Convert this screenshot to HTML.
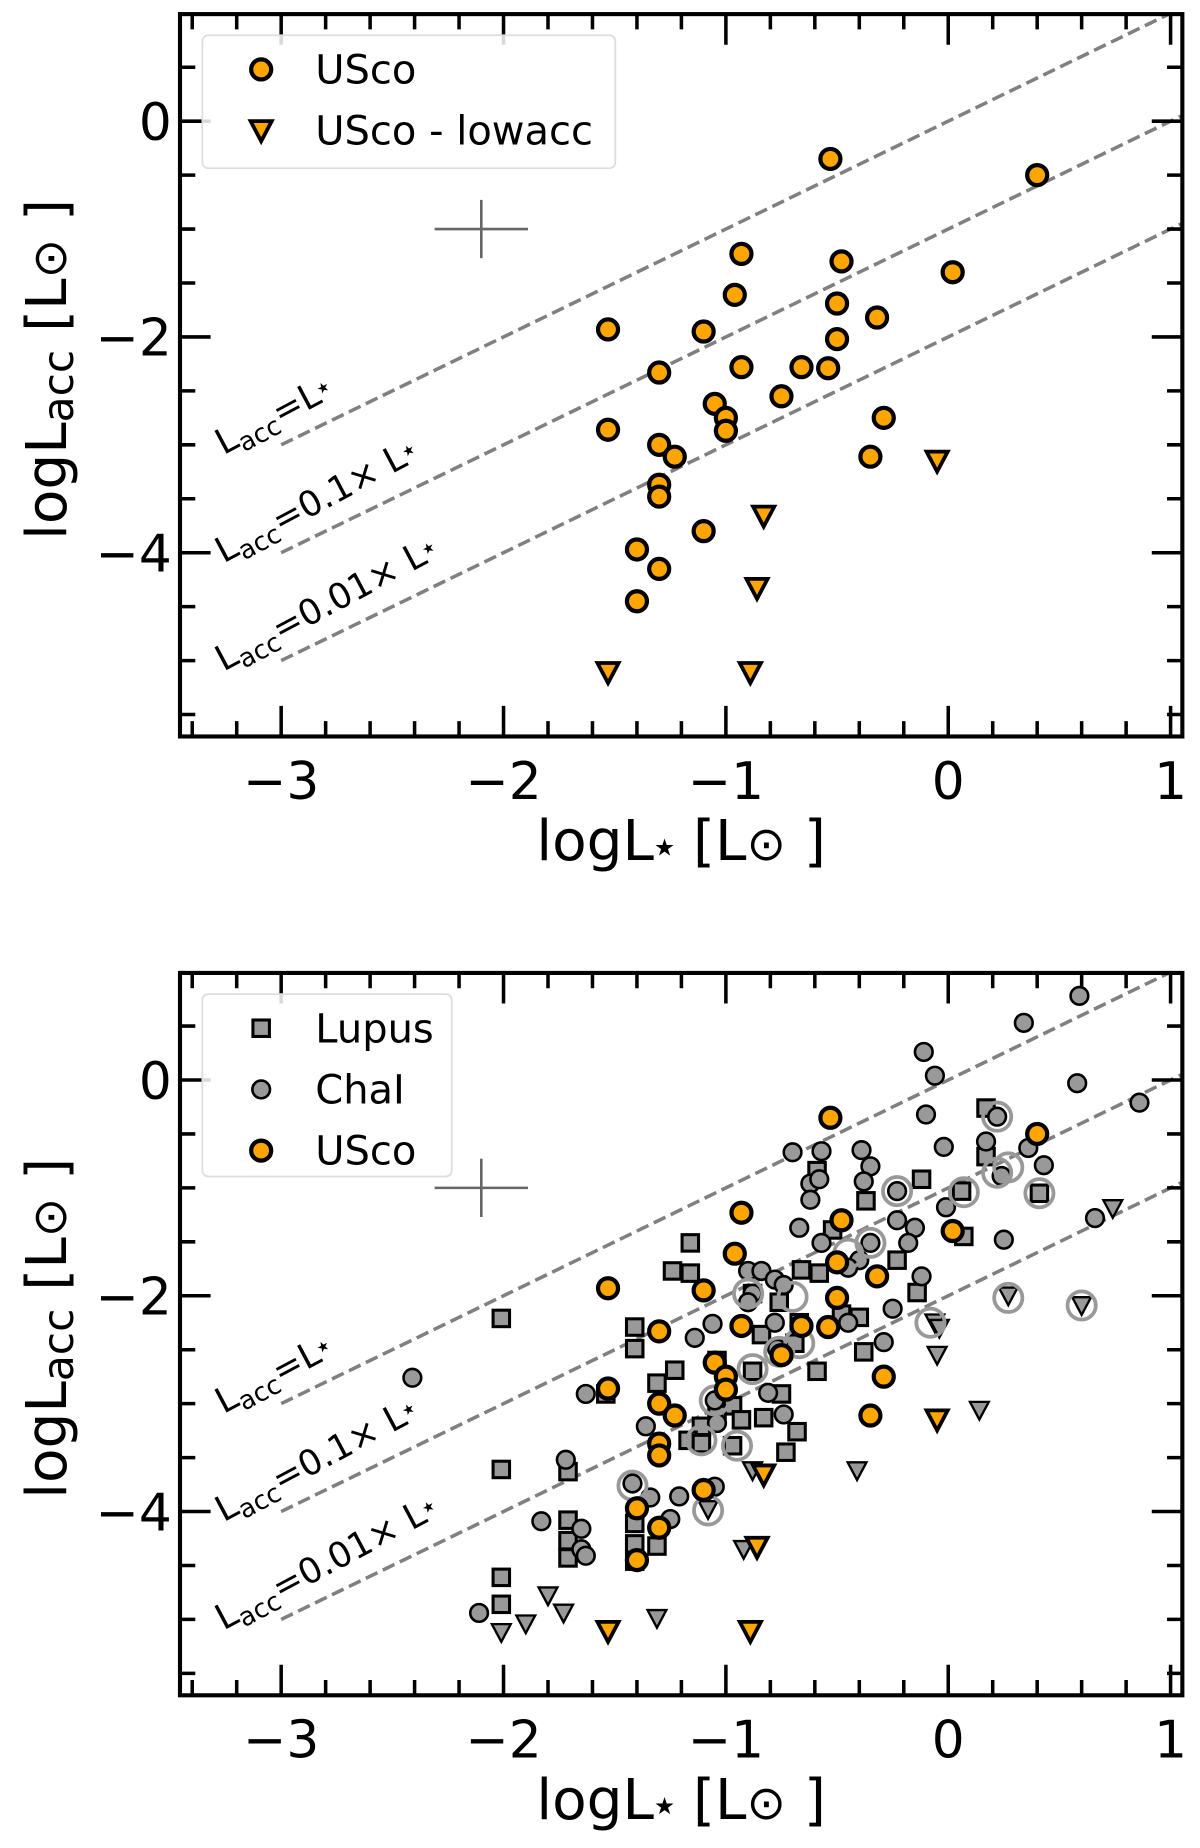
<!DOCTYPE html>
<html><head><meta charset="utf-8"><style>
html,body{margin:0;padding:0;background:#fff;}
svg{display:block;font-family:"DejaVu Sans","Liberation Sans",sans-serif;}
</style></head><body>
<svg id="fig" width="1200" height="1848" viewBox="0 0 1020 1570.8" preserveAspectRatio="none" xmlns="http://www.w3.org/2000/svg"></svg>
<script>
// ---- data ----
const uscoX = [-0.53,0.40,-0.93,-0.48,0.02,-0.96,-0.50,-0.32,-1.53,-1.10,-0.50,-1.30,-0.93,-0.66,-0.54,-0.75,-1.05,-1.0,-1.0,-1.53,-1.30,-1.23,-0.29,-0.35,-1.30,-1.30,-1.10,-1.40,-1.30,-1.40];
const uscoY = [-0.35,-0.50,-1.23,-1.30,-1.40,-1.61,-1.69,-1.82,-1.93,-1.95,-2.02,-2.33,-2.28,-2.28,-2.29,-2.55,-2.62,-2.75,-2.87,-2.86,-3.0,-3.11,-2.75,-3.11,-3.37,-3.48,-3.80,-3.97,-4.15,-4.45];
const lowX = [-0.05,-0.83,-0.86,-1.53,-0.89];
const lowY = [-3.15,-3.66,-4.33,-5.11,-5.11];
const lupusX = [0.17,0.17,-0.59,-0.12,0.06,0.41,-0.37,0.07,-0.52,-1.16,-0.23,-1.24,-1.16,-0.66,-0.58,-0.14,-0.88,-0.76,-2.01,-0.40,-0.48,-1.41,-0.84,-0.67,-1.41,-0.38,-0.69,-1.23,-0.59,-1.04,-0.88,-1.31,-0.75,-1.54,-0.97,-1.04,-0.93,-0.83,-0.68,-1.11,-1.17,-1.11,-0.97,-0.73,-2.01,-1.71,-1.41,-1.41,-1.31,-1.71,-1.71,-1.71,-2.01,-2.01,-1.41];
const lupusY = [-0.26,-0.71,-0.84,-0.92,-1.03,-1.05,-1.12,-1.45,-1.39,-1.51,-1.67,-1.77,-1.79,-1.76,-1.79,-1.97,-1.98,-2.06,-2.21,-2.20,-2.17,-2.29,-2.36,-2.25,-2.49,-2.52,-2.44,-2.69,-2.70,-2.60,-2.70,-2.81,-2.91,-2.91,-3.02,-3.10,-3.15,-3.13,-3.26,-3.21,-3.34,-3.37,-3.39,-3.45,-3.61,-3.63,-4.11,-4.30,-4.32,-4.08,-4.27,-4.43,-4.61,-4.86,-4.46];
const chaX = [0.59,0.34,-0.11,-0.06,0.58,0.86,-0.10,0.22,0.17,-0.02,-0.70,-0.57,-0.39,0.36,0.43,-0.35,0.24,-0.62,-0.38,-0.58,-0.23,-0.62,-0.01,-0.23,-0.67,-0.15,0.25,0.66,-0.57,-0.35,-0.18,-0.40,-0.45,-0.90,-0.84,-0.12,-0.78,-0.74,-0.88,-0.90,-0.25,-1.06,-0.78,-0.45,-1.14,-0.29,-0.77,-2.41,-1.63,-0.81,-0.74,-1.36,-1.04,-1.05,-1.72,-1.42,-1.34,-1.21,-1.05,-1.83,-1.65,-1.25,-1.65,-1.63,-2.11];
const chaY = [0.78,0.53,0.26,0.04,-0.03,-0.21,-0.32,-0.34,-0.57,-0.62,-0.67,-0.66,-0.65,-0.63,-0.79,-0.80,-0.89,-0.96,-0.94,-0.92,-1.03,-1.11,-1.18,-1.30,-1.37,-1.37,-1.48,-1.28,-1.51,-1.51,-1.51,-1.67,-1.74,-1.77,-1.77,-1.82,-1.85,-1.90,-1.98,-2.06,-2.12,-2.26,-2.25,-2.25,-2.39,-2.43,-2.49,-2.76,-2.91,-2.90,-3.10,-3.21,-3.18,-2.97,-3.52,-3.74,-3.87,-3.86,-3.77,-4.09,-4.16,-4.07,-4.35,-4.41,-4.94];
const grayLimX = [0.74,0.27,0.60,-0.06,-0.04,-0.05,0.14,-0.41,-0.88,-1.08,-0.92,-1.80,-1.73,-1.90,-1.31,-2.01];
const grayLimY = [-1.19,-2.0,-2.09,-2.25,-2.30,-2.55,-3.06,-3.62,-3.62,-3.98,-4.35,-4.78,-4.94,-5.04,-4.99,-5.12];
const ringX = [0.22,0.27,0.22,0.07,0.41,-0.23,-0.35,-0.45,-0.08,0.27,0.60,-0.90,-0.70,-0.88,-0.76,-1.05,-1.11,-0.95,-1.42,-1.08,-0.67];
const ringY = [-0.34,-0.81,-0.86,-1.04,-1.05,-1.03,-1.51,-1.61,-2.25,-2.02,-2.09,-1.98,-2.01,-2.68,-2.52,-2.97,-3.34,-3.39,-3.76,-3.99,-2.44];
const xTicks = [-3,-2,-1,0,1];
const xTickLabels = ["\u22123","\u22122","\u22121","0","1"];
const yTicks = [0,-2,-4];
const yTickLabels = ["0","\u22122","\u22124"];
const lineOffsets = [0,-1,-2];

// ---- drawing ----
const NS = "http://www.w3.org/2000/svg";
const svg = document.getElementById('fig');
function mk(tag, attrs, parent){const e=document.createElementNS(NS,tag);for(const k in attrs)e.setAttribute(k,attrs[k]);(parent||svg).appendChild(e);return e;}
const L=153,R=1005,X0=806,XS=189,YS=91.7;
function panel(off, name, bottom){
  const top=12+off, bot=626+off, y0=103+off;
  const sx=v=>X0+v*XS, sy=v=>y0-v*YS;
  const g=mk('g',{});
  
  
  const clip='clip'+off;
  const cp=mk('clipPath',{id:clip},g); mk('rect',{x:L,y:top,width:R-L,height:bot-top},cp);
  lineOffsets.forEach((c,i)=>{
    const ln=mk('line',{x1:sx(-3),y1:sy(-3+c),x2:sx(1.05),y2:sy(1.05+c),stroke:'#808080','stroke-width':3,'stroke-dasharray':'11,5','clip-path':`url(#${clip})`},g);
    
    
  });
  const labs=['=L','=0.1× L','=0.01× L'];
  labs.forEach((t,i)=>{
    const bx=190, by=387+off+i*92;
    const tx=mk('text',{x:bx,y:by,'font-size':30,transform:`rotate(-28 ${bx} ${by})`},g);
    
    
    tx.innerHTML='L<tspan font-size="22" dy="6">acc</tspan><tspan dy="-6">'+t+'</tspan><tspan font-size="12" dy="-7">★</tspan>';
  });
  const ec=mk('path',{d:`M${sx(-2.31)} ${sy(-1)}H${sx(-1.89)}M${sx(-2.1)} ${sy(-0.73)}V${sy(-1.27)}`,stroke:'#666','stroke-width':2.2,fill:'none'},g);
  
  
  const mg=mk('g',{'clip-path':`url(#${clip})`},g);
  if(bottom){
    lupusX.forEach((x,i)=>{const r=mk('rect',{x:sx(x)-7,y:sy(lupusY[i])-7,width:14,height:14,fill:'#999',stroke:'#000','stroke-width':2.6},mg);
      
      });
    chaX.forEach((x,i)=>{const c=mk('circle',{cx:sx(x),cy:sy(chaY[i]),r:7.5,fill:'#999',stroke:'#000','stroke-width':2.2},mg);
      
      });
    grayLimX.forEach((x,i)=>{const X=sx(x),Y=sy(grayLimY[i]);const p=mk('path',{d:`M${X-8} ${Y-7}H${X+8}L${X} ${Y+8}Z`,fill:'#999',stroke:'#000','stroke-width':2},mg);
      
      });
    ringX.forEach((x,i)=>{const c=mk('circle',{cx:sx(x),cy:sy(ringY[i]),r:12,fill:'none',stroke:'#999','stroke-width':3.2},mg);
      
      });
  }
  uscoX.forEach((x,i)=>{const c=mk('circle',{cx:sx(x),cy:sy(uscoY[i]),r:8.5,fill:'#ffa500',stroke:'#000','stroke-width':3.6},mg);
    
    });
  lowX.forEach((x,i)=>{const X=sx(x),Y=sy(lowY[i]);const p=mk('path',{d:`M${X-9} ${Y-8}H${X+9}L${X} ${Y+9}Z`,fill:'#ffa500',stroke:'#000','stroke-width':3.2,'stroke-linejoin':'miter'},mg);
    
    });
  let d='';
  for(let v=-3.4;v<=1.05;v+=0.2){const X=sx(Math.round(v*10)/10);const major=Math.abs(Math.round(v)-v)<0.01;const ln=major?26:13;d+=`M${X} ${bot}v${-ln}M${X} ${top}v${ln}`;}
  for(let v=-5.5;v<=0.75;v+=0.5){const Y=sy(v);const major=Math.abs(v/2-Math.round(v/2))<0.01;const ln=major?26:13;d+=`M${L} ${Y}h${ln}M${R} ${Y}h${-ln}`;}
  const tk=mk('path',{d,stroke:'#000','stroke-width':3,fill:'none'},g);
  
  
  const fr=mk('rect',{x:L,y:top,width:R-L,height:bot-top,fill:'none',stroke:'#000','stroke-width':3.5},g);
  
  
  xTicks.forEach((v,i)=>{const t=mk('text',{x:sx(v),y:bot+53,'font-size':44,'text-anchor':'middle'},g);t.textContent=xTickLabels[i];
    
    });
  yTicks.forEach((v,i)=>{const t=mk('text',{x:146,y:sy(v)+16,'font-size':44,'text-anchor':'end'},g);t.textContent=yTickLabels[i];
    
    });
  const xl=mk('text',{x:579,y:bot+105,'font-size':48,'text-anchor':'middle'},g);
  xl.innerHTML='logL<tspan font-size="20" dy="-4">★</tspan><tspan dy="4"> [L</tspan><tspan font-size="40">⊙</tspan> ]';
  
  
  const yc=(top+bot)/2-5;
  const yl=mk('text',{x:0,y:0,'font-size':48,'text-anchor':'middle',transform:`translate(56 ${yc}) rotate(-90)`},g);
  yl.innerHTML='logL<tspan font-size="36" dy="6">acc</tspan><tspan dy="-6"> [L</tspan><tspan font-size="40">⊙</tspan> ]';
  
  
  return g;
}
const p1=panel(0,'top-panel',false);
const p2=panel(815,'bottom-panel',true);
function legend(parent,x,y,w,h,entries,name){
  const g=mk('g',{},parent);
  
  
  mk('rect',{x,y,width:w,height:h,rx:5,fill:'#fff','fill-opacity':0.85,stroke:'#ddd','stroke-width':1.5},g);
  entries.forEach((e,i)=>{
    const cy=y+29+i*52, mx=x+50;
    let m;
    if(e[0]==='c') m=mk('circle',{cx:mx,cy,r:8.5,fill:'#ffa500',stroke:'#000','stroke-width':3.6},g);
    else if(e[0]==='t') m=mk('path',{d:`M${mx-9} ${cy-8}H${mx+9}L${mx} ${cy+9}Z`,fill:'#ffa500',stroke:'#000','stroke-width':3.2},g);
    else if(e[0]==='s') m=mk('rect',{x:mx-7,y:cy-7,width:14,height:14,fill:'#999',stroke:'#000','stroke-width':2.6},g);
    else m=mk('circle',{cx:mx,cy,r:7.5,fill:'#999',stroke:'#000','stroke-width':2.2},g);
    
    
    const t=mk('text',{x:x+96,y:cy+12,'font-size':34},g);t.textContent=e[1];
    
    
  });
}
legend(p1,172,30,351,113,[['c','USco'],['t','USco - lowacc']],'legend-top');
legend(p2,172,845,212,155,[['s','Lupus'],['g','ChaI'],['c','USco']],'legend-bottom');
</script>
</body></html>
